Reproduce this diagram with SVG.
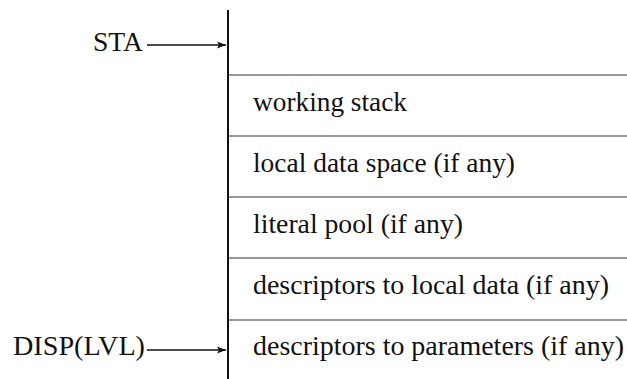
<svg xmlns="http://www.w3.org/2000/svg" width="627" height="379" viewBox="0 0 627 379">
<style>
text { font-family: "Liberation Serif", "Times New Roman", serif; font-size: 27px; fill: #111; }
.sep { stroke: #333; stroke-width: 1.2; }
.wall { stroke: #111; stroke-width: 2; }
.arrow { stroke: #111; stroke-width: 1.3; fill: none; marker-end: url(#ah); }
</style>
<defs>
<marker id="ah" markerWidth="10" markerHeight="8" refX="9" refY="4" orient="auto" markerUnits="userSpaceOnUse">
<path d="M0,0.5 L9,4 L0,7.5 L2,4 Z" fill="#111"/>
</marker>
</defs>
<rect width="627" height="379" fill="#fff"/>
<g id="stack">
<line class="wall" x1="228" y1="10" x2="228" y2="379"/>
<line class="sep" x1="228" y1="75" x2="627" y2="75"/>
<line class="sep" x1="228" y1="136" x2="627" y2="136"/>
<line class="sep" x1="228" y1="197" x2="627" y2="197"/>
<line class="sep" x1="228" y1="258" x2="627" y2="258"/>
<line class="sep" x1="228" y1="320" x2="627" y2="320"/>
</g>
<g id="working-stack"><text x="253" y="111" textLength="154" lengthAdjust="spacingAndGlyphs">working stack</text></g>
<g id="local-data-space"><text x="253" y="172" textLength="262" lengthAdjust="spacingAndGlyphs">local data space (if any)</text></g>
<g id="literal-pool"><text x="253" y="233" textLength="210" lengthAdjust="spacingAndGlyphs">literal pool (if any)</text></g>
<g id="descriptors-local"><text x="253" y="294" textLength="356" lengthAdjust="spacingAndGlyphs">descriptors to local data (if any)</text></g>
<g id="descriptors-params"><text x="253" y="355" textLength="371" lengthAdjust="spacingAndGlyphs">descriptors to parameters (if any)</text></g>
<g id="sta"><text x="93" y="51" textLength="50" lengthAdjust="spacingAndGlyphs">STA</text></g>
<g id="disp"><text x="13" y="355" textLength="132" lengthAdjust="spacingAndGlyphs">DISP(LVL)</text></g>
<g id="connectors">
<line class="arrow" x1="147" y1="45" x2="226" y2="45"/>
<line class="arrow" x1="147" y1="350" x2="226" y2="350"/>
</g>
</svg>
